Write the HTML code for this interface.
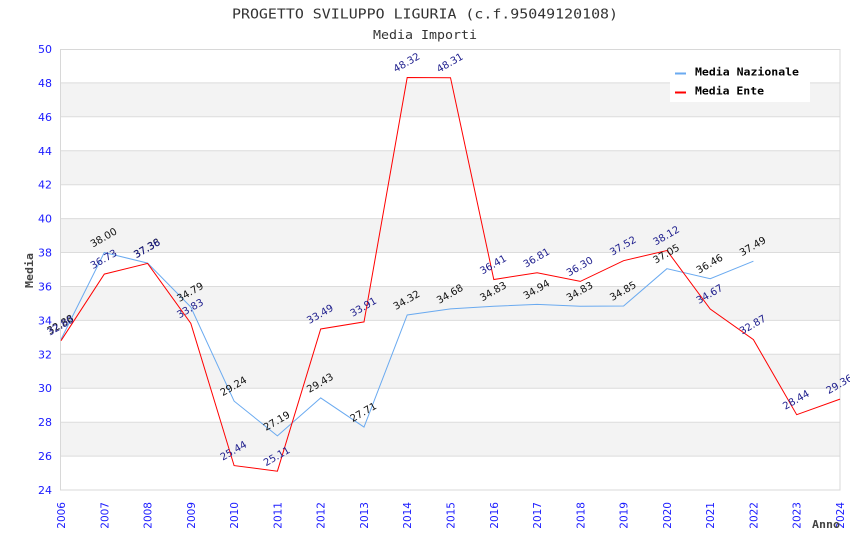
<!DOCTYPE html>
<html><head><meta charset="utf-8"><style>
html,body{margin:0;padding:0;background:#fff;}
svg{display:block;}
</style></head><body>
<svg width="850" height="550" viewBox="0 0 850 550" xmlns="http://www.w3.org/2000/svg">
<rect x="0" y="0" width="850" height="550" fill="#fff"/>
<!-- bands -->
<g fill="#f3f3f3">
<rect x="61" y="82.9" width="779" height="33.9"/>
<rect x="61" y="150.8" width="779" height="33.9"/>
<rect x="61" y="218.6" width="779" height="33.9"/>
<rect x="61" y="286.5" width="779" height="33.9"/>
<rect x="61" y="354.3" width="779" height="33.9"/>
<rect x="61" y="422.2" width="779" height="33.9"/>
</g>
<g stroke="#dcdcdc" stroke-width="1">
<line x1="61" y1="82.9" x2="840" y2="82.9"/>
<line x1="61" y1="116.8" x2="840" y2="116.8"/>
<line x1="61" y1="150.8" x2="840" y2="150.8"/>
<line x1="61" y1="184.7" x2="840" y2="184.7"/>
<line x1="61" y1="218.6" x2="840" y2="218.6"/>
<line x1="61" y1="252.5" x2="840" y2="252.5"/>
<line x1="61" y1="286.5" x2="840" y2="286.5"/>
<line x1="61" y1="320.4" x2="840" y2="320.4"/>
<line x1="61" y1="354.3" x2="840" y2="354.3"/>
<line x1="61" y1="388.2" x2="840" y2="388.2"/>
<line x1="61" y1="422.2" x2="840" y2="422.2"/>
<line x1="61" y1="456.1" x2="840" y2="456.1"/>
</g>
<rect x="60.5" y="49.5" width="779.5" height="440.5" fill="none" stroke="#d8d8d8" stroke-width="1"/>
<!-- title -->
<g font-family="'DejaVu Sans Mono','Liberation Mono',monospace" fill="#333">
<text x="425" y="18.5" text-anchor="middle" font-size="13" textLength="386" lengthAdjust="spacingAndGlyphs">PROGETTO SVILUPPO LIGURIA (c.f.95049120108)</text>
<text x="425" y="39" text-anchor="middle" font-size="12" textLength="104" lengthAdjust="spacingAndGlyphs">Media Importi</text>
</g>
<!-- y ticks -->
<g font-family="'DejaVu Sans','Liberation Sans',sans-serif" font-size="11" fill="#1a1aff" text-anchor="end">
<text x="52" y="53">50</text>
<text x="52" y="86.9">48</text>
<text x="52" y="120.8">46</text>
<text x="52" y="154.8">44</text>
<text x="52" y="188.7">42</text>
<text x="52" y="222.6">40</text>
<text x="52" y="256.5">38</text>
<text x="52" y="290.5">36</text>
<text x="52" y="324.4">34</text>
<text x="52" y="358.3">32</text>
<text x="52" y="392.2">30</text>
<text x="52" y="426.2">28</text>
<text x="52" y="460.1">26</text>
<text x="52" y="494">24</text>
</g>
<!-- x ticks -->
<g font-family="'DejaVu Sans','Liberation Sans',sans-serif" font-size="10.5" fill="#1a1aff" text-anchor="end">
<text transform="translate(65,502) rotate(-90)">2006</text>
<text transform="translate(108.3,502) rotate(-90)">2007</text>
<text transform="translate(151.6,502) rotate(-90)">2008</text>
<text transform="translate(194.8,502) rotate(-90)">2009</text>
<text transform="translate(238.1,502) rotate(-90)">2010</text>
<text transform="translate(281.4,502) rotate(-90)">2011</text>
<text transform="translate(324.7,502) rotate(-90)">2012</text>
<text transform="translate(368,502) rotate(-90)">2013</text>
<text transform="translate(411.2,502) rotate(-90)">2014</text>
<text transform="translate(454.5,502) rotate(-90)">2015</text>
<text transform="translate(497.8,502) rotate(-90)">2016</text>
<text transform="translate(541.1,502) rotate(-90)">2017</text>
<text transform="translate(584.3,502) rotate(-90)">2018</text>
<text transform="translate(627.6,502) rotate(-90)">2019</text>
<text transform="translate(670.9,502) rotate(-90)">2020</text>
<text transform="translate(714.2,502) rotate(-90)">2021</text>
<text transform="translate(757.4,502) rotate(-90)">2022</text>
<text transform="translate(800.7,502) rotate(-90)">2023</text>
<text transform="translate(844,502) rotate(-90)">2024</text>
</g>
<!-- axis titles -->
<g font-family="'DejaVu Sans Mono','Liberation Mono',monospace" font-weight="bold" fill="#444" font-size="11">
<text x="812" y="528" textLength="28" lengthAdjust="spacingAndGlyphs">Anno</text>
<text transform="translate(33,288) rotate(-90)" textLength="35" lengthAdjust="spacingAndGlyphs">Media</text>
</g>
<!-- series -->
<polyline fill="none" stroke="#6aaaf0" stroke-width="1" points="61,339.4 104.3,252.5 147.6,263.1 190.8,307 234.1,401.1 277.4,435.9 320.7,397.9 364,427.1 407.2,315 450.5,308.9 493.8,306.3 537.1,304.4 580.3,306.3 623.6,306 666.9,268.7 710.2,278.7 753.4,261.2"/>
<polyline fill="none" stroke="#ff0000" stroke-width="1" points="61,340.7 104.3,274.1 147.6,263.4 190.8,323.3 234.1,465.6 277.4,471.2 320.7,329 364,321.9 407.2,77.5 450.5,77.7 493.8,279.5 537.1,272.7 580.3,281.4 623.6,260.7 666.9,250.5 710.2,309 753.4,339.6 796.7,414.7 840,399.1"/>
<!-- labels Nazionale -->
<g font-family="'DejaVu Sans','Liberation Sans',sans-serif" font-size="10" fill="#111" text-anchor="middle">
<text transform="translate(62,327.4) rotate(-30)">32.88</text>
<text transform="translate(105.3,240.5) rotate(-30)">38.00</text>
<text transform="translate(148.6,251.1) rotate(-30)">37.38</text>
<text transform="translate(191.8,295) rotate(-30)">34.79</text>
<text transform="translate(235.1,389.1) rotate(-30)">29.24</text>
<text transform="translate(278.4,423.9) rotate(-30)">27.19</text>
<text transform="translate(321.7,385.9) rotate(-30)">29.43</text>
<text transform="translate(365,415.1) rotate(-30)">27.71</text>
<text transform="translate(408.2,303) rotate(-30)">34.32</text>
<text transform="translate(451.5,296.9) rotate(-30)">34.68</text>
<text transform="translate(494.8,294.3) rotate(-30)">34.83</text>
<text transform="translate(538.1,292.4) rotate(-30)">34.94</text>
<text transform="translate(581.3,294.3) rotate(-30)">34.83</text>
<text transform="translate(624.6,294) rotate(-30)">34.85</text>
<text transform="translate(667.9,256.7) rotate(-30)">37.05</text>
<text transform="translate(711.2,266.7) rotate(-30)">36.46</text>
<text transform="translate(754.4,249.2) rotate(-30)">37.49</text>
</g>
<!-- labels Ente -->
<g font-family="'DejaVu Sans','Liberation Sans',sans-serif" font-size="10" fill="#1c1c8c" text-anchor="middle">
<text transform="translate(62,328.7) rotate(-30)">32.80</text>
<text transform="translate(105.3,262.1) rotate(-30)">36.73</text>
<text transform="translate(148.6,251.4) rotate(-30)">37.36</text>
<text transform="translate(191.8,311.3) rotate(-30)">33.83</text>
<text transform="translate(235.1,453.6) rotate(-30)">25.44</text>
<text transform="translate(278.4,459.2) rotate(-30)">25.11</text>
<text transform="translate(321.7,317) rotate(-30)">33.49</text>
<text transform="translate(365,309.9) rotate(-30)">33.91</text>
<text transform="translate(408.2,65.5) rotate(-30)">48.32</text>
<text transform="translate(451.5,65.7) rotate(-30)">48.31</text>
<text transform="translate(494.8,267.5) rotate(-30)">36.41</text>
<text transform="translate(538.1,260.7) rotate(-30)">36.81</text>
<text transform="translate(581.3,269.4) rotate(-30)">36.30</text>
<text transform="translate(624.6,248.7) rotate(-30)">37.52</text>
<text transform="translate(667.9,238.5) rotate(-30)">38.12</text>
<text transform="translate(711.2,297) rotate(-30)">34.67</text>
<text transform="translate(754.4,327.6) rotate(-30)">32.87</text>
<text transform="translate(797.7,402.7) rotate(-30)">28.44</text>
<text transform="translate(841,387.1) rotate(-30)">29.36</text>
</g>
<!-- legend -->
<rect x="670" y="58" width="140" height="44" fill="#fff"/>
<line x1="675" y1="73.5" x2="686" y2="73.5" stroke="#6aaaf0" stroke-width="2"/>
<line x1="675" y1="92.5" x2="686" y2="92.5" stroke="#ff0000" stroke-width="2"/>
<g font-family="'DejaVu Sans Mono','Liberation Mono',monospace" font-weight="bold" font-size="11" fill="#000">
<text x="695" y="75.5" textLength="104" lengthAdjust="spacingAndGlyphs">Media Nazionale</text>
<text x="695" y="94.5" textLength="69" lengthAdjust="spacingAndGlyphs">Media Ente</text>
</g>
</svg>
</body></html>
